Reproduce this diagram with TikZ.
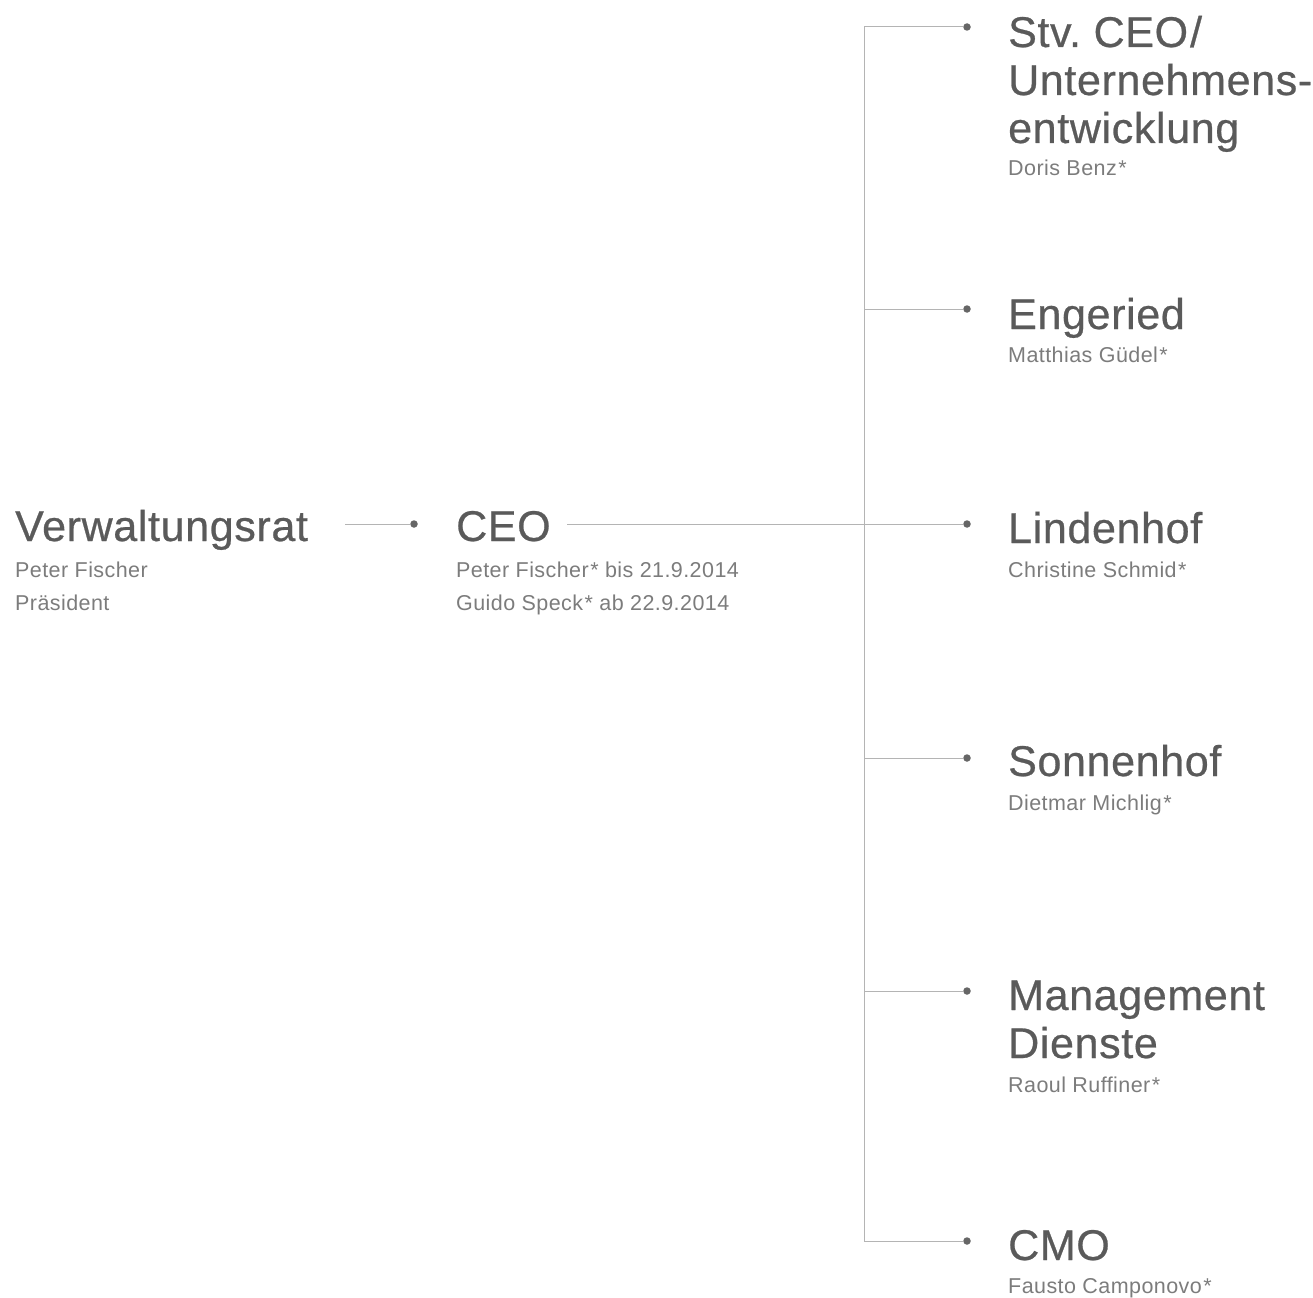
\documentclass[tikz,border=0pt]{standalone}
\usepackage{fontspec}
\setmainfont[LetterSpace=2]{Liberation Sans}
\newfontfamily\titlefont[LetterSpace=1.5,FakeBold=0.6]{Liberation Sans}
\definecolor{titlegray}{HTML}{5A5A5A}
\definecolor{subgray}{HTML}{7C7C7C}
\definecolor{linegray}{HTML}{B4B4B4}
\definecolor{dotgray}{HTML}{666666}
\begin{document}
\frenchspacing
\begin{tikzpicture}[x=1pt,y=-1pt,
  titletext/.style={anchor=base west,inner sep=0pt,text=titlegray,font=\titlefont\fontsize{43}{48}\selectfont},
  subtext/.style={anchor=base west,inner sep=0pt,text=subgray,font=\fontsize{21.5}{26}\selectfont},
  conn/.style={draw=linegray,line width=1pt},
  dotmark/.style={circle,fill=dotgray,inner sep=0pt,minimum size=7.5pt}]
\useasboundingbox (0,0) rectangle (1313,1297);
% left boxes
\node[titletext] (vr) at (15,541) {Verwaltungsrat};
\node[subtext] (vr1) at (15,577) {Peter Fischer};
\node[subtext] (vr2) at (15,610) {Präsident};
\node[titletext] (ceo) at (456,541) {CEO};
\node[subtext] (ceo1) at (456,577) {Peter Fischer\kern1.5pt* bis 21.9.2014};
\node[subtext] (ceo2) at (456,610) {Guido Speck\kern1.5pt* ab 22.9.2014};
% right boxes
\node[titletext] (stv1) at (1008,47) {Stv. CEO\kern2pt/};
\node[titletext] (stv2) at (1008,95) {Unternehmens-};
\node[titletext] (stv3) at (1008,143) {entwicklung};
\node[subtext] (stvs) at (1008,176) {Doris Benz\kern1.5pt*};
\node[titletext] (eng) at (1008,329) {Engeried};
\node[subtext] (engs) at (1008,362) {Matthias Güdel\kern1.5pt*};
\node[titletext] (lin) at (1008,543) {Lindenhof};
\node[subtext] (lins) at (1008,577) {Christine Schmid\kern1.5pt*};
\node[titletext] (son) at (1008,776) {Sonnenhof};
\node[subtext] (sons) at (1008,810) {Dietmar Michlig\kern1.5pt*};
\node[titletext] (man1) at (1008,1010) {Management};
\node[titletext] (man2) at (1008,1058) {Dienste};
\node[subtext] (mans) at (1008,1092) {Raoul Ruffiner\kern1.5pt*};
\node[titletext] (cmo) at (1008,1260) {CMO};
\node[subtext] (cmos) at (1008,1293) {Fausto Camponovo\kern1.5pt*};
% dots
\node[dotmark] (dceo) at (414,524) {};
\node[dotmark] (dstv) at (967,27) {};
\node[dotmark] (deng) at (967,309) {};
\node[dotmark] (dlin) at (967,524) {};
\node[dotmark] (dson) at (967,758) {};
\node[dotmark] (dman) at (967,991) {};
\node[dotmark] (dcmo) at (967,1241) {};
% junction coordinates
\coordinate (vrout) at (345,524);
\coordinate (ceoout) at (567,524);
\coordinate (jtop) at (864,27);
\coordinate (jeng) at (864,309);
\coordinate (jlin) at (864,524);
\coordinate (json) at (864,758);
\coordinate (jman) at (864,991);
\coordinate (jbot) at (864,1241);
% connectors
\draw[conn] (vrout) -- (dceo.west);
\draw[conn] (ceoout) -- (dlin.west);
\draw[conn] (dstv.west) -- (jtop) -- (jbot) -- (dcmo.west);
\draw[conn] (jeng) -- (deng.west);
\draw[conn] (json) -- (dson.west);
\draw[conn] (jman) -- (dman.west);
\end{tikzpicture}
\end{document}
